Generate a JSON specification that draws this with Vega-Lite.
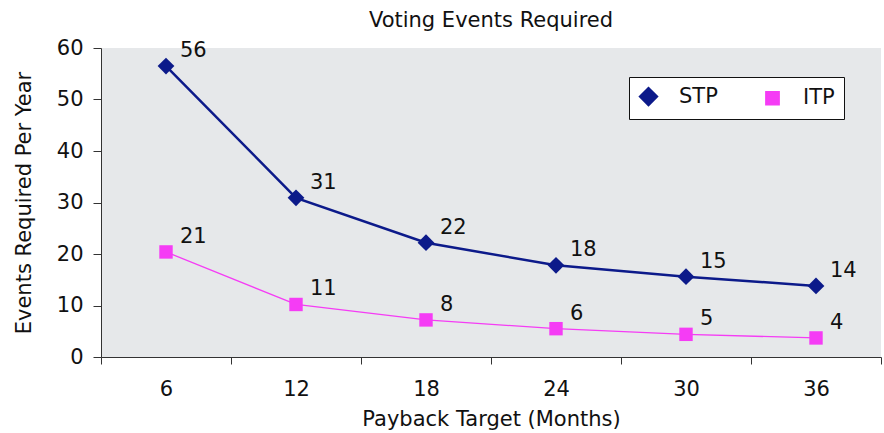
{
  "$schema": "https://vega.github.io/schema/vega-lite/v6.json",
  "width": 780,
  "height": 309,
  "autosize": {"type": "none"},
  "padding": {"left": 101, "top": 48, "right": 3, "bottom": 76},
  "background": "white",
  "title": {
    "text": "Voting Events Required",
    "font": "DejaVu Sans",
    "fontSize": 21,
    "fontWeight": "normal",
    "color": "#111111",
    "anchor": "middle",
    "frame": "group",
    "offset": 6
  },
  "config": {
    "view": {"fill": "#e6e8ea", "stroke": null},
    "font": "DejaVu Sans",
    "axis": {
      "domainColor": "#333333",
      "tickColor": "#333333",
      "labelColor": "#111111",
      "titleColor": "#111111",
      "labelFont": "DejaVu Sans",
      "titleFont": "DejaVu Sans",
      "labelFontSize": 21,
      "titleFontSize": 21,
      "titleFontWeight": "normal",
      "grid": false
    }
  },
  "data": {
    "values": [
      {"m": 6, "series": "STP", "v": 56.5, "label": "56"},
      {"m": 12, "series": "STP", "v": 30.9, "label": "31"},
      {"m": 18, "series": "STP", "v": 22.2, "label": "22"},
      {"m": 24, "series": "STP", "v": 17.8, "label": "18"},
      {"m": 30, "series": "STP", "v": 15.6, "label": "15"},
      {"m": 36, "series": "STP", "v": 13.8, "label": "14"},
      {"m": 6, "series": "ITP", "v": 20.4, "label": "21"},
      {"m": 12, "series": "ITP", "v": 10.2, "label": "11"},
      {"m": 18, "series": "ITP", "v": 7.2, "label": "8"},
      {"m": 24, "series": "ITP", "v": 5.5, "label": "6"},
      {"m": 30, "series": "ITP", "v": 4.4, "label": "5"},
      {"m": 36, "series": "ITP", "v": 3.7, "label": "4"}
    ]
  },
  "encoding": {
    "x": {
      "field": "m",
      "type": "ordinal",
      "bandPosition": 0.5,
      "scale": {"type": "band", "paddingInner": 0, "paddingOuter": 0},
      "axis": {
        "title": "Payback Target (Months)",
        "labelAngle": 0,
        "tickBand": "extent",
        "tickSize": 7,
        "labelPadding": 14,
        "titlePadding": 9
      }
    },
    "y": {
      "field": "v",
      "type": "quantitative",
      "scale": {"domain": [0, 60], "nice": false},
      "axis": {
        "title": "Events Required Per Year",
        "values": [0, 10, 20, 30, 40, 50, 60],
        "tickSize": 8,
        "labelPadding": 10,
        "titlePadding": 22
      }
    },
    "color": {
      "field": "series",
      "type": "nominal",
      "scale": {"domain": ["STP", "ITP"], "range": ["#0c1a8a", "#f53cf5"]},
      "legend": {
        "title": null,
        "orient": "none",
        "legendX": 528,
        "legendY": 29,
        "direction": "horizontal",
        "fillColor": "white",
        "strokeColor": "#111111",
        "padding": 9,
        "labelFont": "DejaVu Sans",
        "labelFontSize": 21,
        "labelColor": "#111111",
        "labelOffset": 20,
        "columnPadding": 44,
        "symbolOpacity": 1
      }
    }
  },
  "layer": [
    {
      "mark": {"type": "line"},
      "encoding": {
        "strokeWidth": {
          "field": "series",
          "type": "nominal",
          "scale": {"domain": ["STP", "ITP"], "range": [2.5, 1.3]},
          "legend": null
        }
      }
    },
    {
      "mark": {"type": "point", "filled": true, "opacity": 1},
      "encoding": {
        "shape": {
          "field": "series",
          "type": "nominal",
          "scale": {"domain": ["STP", "ITP"], "range": ["diamond", "square"]},
          "legend": null
        },
        "size": {
          "field": "series",
          "type": "nominal",
          "scale": {"domain": ["STP", "ITP"], "range": [280, 180]},
          "legend": null
        }
      }
    },
    {
      "mark": {"type": "text", "align": "left", "baseline": "middle", "dx": 14, "dy": -15, "fontSize": 21, "font": "DejaVu Sans"},
      "encoding": {"text": {"field": "label"}, "color": {"value": "#111111"}}
    }
  ]
}
